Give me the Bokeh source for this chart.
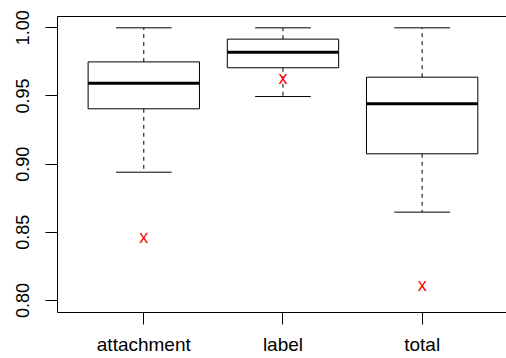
from bokeh.plotting import figure
from bokeh.models import FixedTicker, LinearAxis, Range1d, ColumnDataSource
from bokeh.core.properties import value
from bokeh.embed import file_html
from bokeh.resources import INLINE

categories = ["attachment", "label", "total"]
upper_whisker = [1.000, 1.000, 1.000]
q3 = [0.9750, 0.9917, 0.9638]
median = [0.9594, 0.9821, 0.9443]
q1 = [0.9406, 0.9707, 0.9076]
lower_whisker = [0.8941, 0.9496, 0.8648]
means = [0.8460, 0.9626, 0.8103]
y_ticks = [0.80, 0.85, 0.90, 0.95, 1.00]
y_tick_labels = ["0.80", "0.85", "0.90", "0.95", "1.00"]

FONT = "Liberation Sans"
pos = list(range(1, len(categories) + 1))
half_box = 0.4
half_cap = 0.2

src = ColumnDataSource(dict(
    x=pos,
    left=[v - half_box for v in pos],
    right=[v + half_box for v in pos],
    cl=[v - half_cap for v in pos],
    cr=[v + half_cap for v in pos],
    up=upper_whisker, q3=q3, med=median, q1=q1, low=lower_whisker,
    mean=means, mk=["x"] * len(pos),
))

p = figure(width=506, height=358, output_backend="svg", toolbar_location=None,
           x_range=Range1d(0.38, 3.606), y_range=Range1d(0.7912, 1.0083),
           min_border_left=57, min_border_top=16, min_border_bottom=46,
           min_border_right=0, x_axis_location=None, y_axis_location=None)
p.grid.visible = False
p.outline_line_color = None
p.background_fill_color = "white"
p.border_fill_color = "white"

# whiskers
p.segment(x0="x", x1="x", y0="q3", y1="up", source=src, line_color="black",
          line_width=1, line_dash="4 4")
p.segment(x0="x", x1="x", y0="q1", y1="low", source=src, line_color="black",
          line_width=1, line_dash="4 4")
# caps
p.segment(x0="cl", x1="cr", y0="up", y1="up", source=src, line_color="black", line_width=1)
p.segment(x0="cl", x1="cr", y0="low", y1="low", source=src, line_color="black", line_width=1)
# boxes
p.quad(left="left", right="right", top="q3", bottom="q1", source=src,
       fill_color="white", line_color="black", line_width=1)
# medians
p.segment(x0="left", x1="right", y0="med", y1="med", source=src,
          line_color="black", line_width=3)
# means
p.text(x="x", y="mean", text="mk", source=src, text_color="red",
       text_font=value(FONT), text_font_size="18px", text_align="center",
       text_baseline="middle", y_offset=-1)

# axes
ax_left = LinearAxis(ticker=FixedTicker(ticks=y_ticks),
                     major_label_overrides={t: l for t, l in zip(y_ticks, y_tick_labels)})
ax_left.major_label_orientation = "vertical"
ax_left.major_label_text_font = FONT
ax_left.major_label_text_font_size = "18px"
ax_left.major_label_text_color = "black"
ax_left.major_label_standoff = 16
ax_left.major_tick_out = 12
ax_left.major_tick_in = 0
ax_left.minor_tick_out = 0
ax_left.minor_tick_in = 0
ax_left.axis_line_color = "black"
ax_left.major_tick_line_color = "black"
p.add_layout(ax_left, "left")

ax_bottom = LinearAxis(ticker=FixedTicker(ticks=pos),
                       major_label_overrides={t: c for t, c in zip(pos, categories)})
ax_bottom.major_label_text_font = FONT
ax_bottom.major_label_text_font_size = "19px"
ax_bottom.major_label_text_color = "black"
ax_bottom.major_label_standoff = 9
ax_bottom.major_tick_out = 12
ax_bottom.major_tick_in = 0
ax_bottom.minor_tick_out = 0
ax_bottom.minor_tick_in = 0
ax_bottom.axis_line_color = "black"
ax_bottom.major_tick_line_color = "black"
p.add_layout(ax_bottom, "below")

ax_top = LinearAxis(ticker=FixedTicker(ticks=[]), major_label_text_font_size="0px",
                    major_tick_out=0, major_tick_in=0, minor_tick_out=0, minor_tick_in=0,
                    major_label_standoff=0, axis_line_color="black")
p.add_layout(ax_top, "above")

open("out.html", "w").write(file_html(p, INLINE))
